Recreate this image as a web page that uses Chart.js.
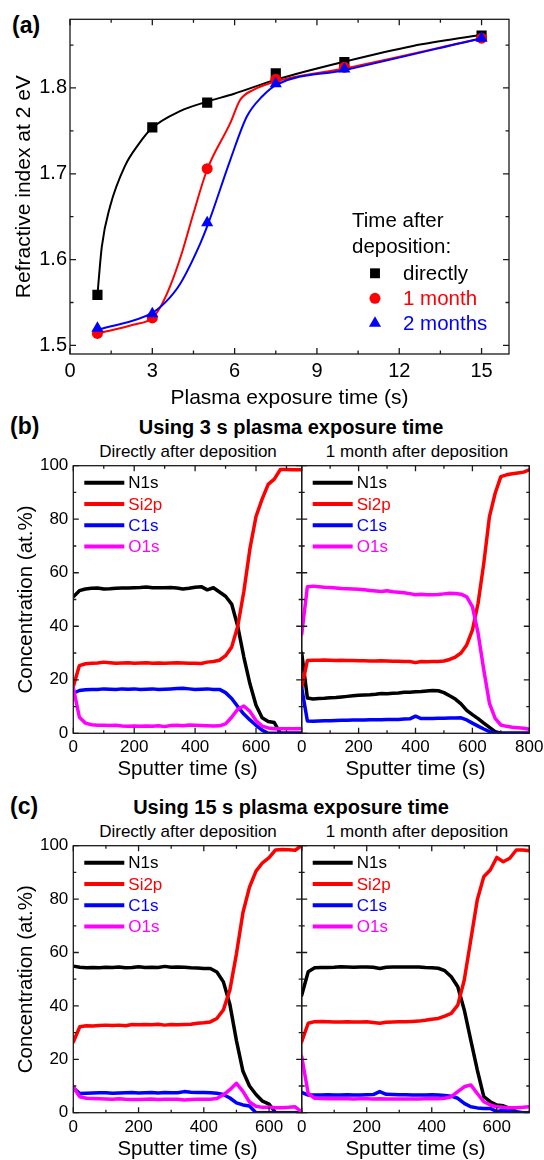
<!DOCTYPE html>
<html><head><meta charset="utf-8">
<script src="https://cdn.jsdelivr.net/npm/chart.js@4/dist/chart.umd.min.js"></script>
<style>
html,body{margin:0;padding:0;background:#fff;}
body{width:544px;height:1160px;position:relative;overflow:hidden;font-family:"Liberation Sans",Arial,sans-serif;}
canvas{position:absolute;}
.lbl{position:absolute;white-space:nowrap;color:#000;line-height:1;}
.ctr{transform:translateX(-50%);}
</style></head><body>
<div class="lbl" style="left:12px;top:14px;font-size:23px;font-weight:bold;">(a)</div>
<div class="lbl" style="left:10px;top:415px;font-size:23px;font-weight:bold;">(b)</div>
<div class="lbl ctr" style="left:291px;top:417px;font-size:20px;font-weight:bold;">Using 3 s plasma exposure time</div>
<div class="lbl ctr" style="left:188px;top:443px;font-size:17px;">Directly after deposition</div>
<div class="lbl ctr" style="left:417px;top:443px;font-size:17px;">1 month after deposition</div>
<div class="lbl" style="left:10px;top:795px;font-size:23px;font-weight:bold;">(c)</div>
<div class="lbl ctr" style="left:291px;top:797px;font-size:20px;font-weight:bold;">Using 15 s plasma exposure time</div>
<div class="lbl ctr" style="left:188px;top:823px;font-size:17px;">Directly after deposition</div>
<div class="lbl ctr" style="left:417px;top:823px;font-size:17px;">1 month after deposition</div>
<canvas id="ca"></canvas>
<canvas id="cb1"></canvas>
<canvas id="cb2"></canvas>
<canvas id="cc1"></canvas>
<canvas id="cc2"></canvas>
<script>
// ---------- data: panel (a) measured points ----------
const A_X = [1, 3, 5, 7.5, 10, 15];
const A_DIRECTLY = [1.559, 1.754, 1.783, 1.817, 1.830, 1.861];
const A_1MONTH   = [1.514, 1.532, 1.706, 1.810, 1.824, 1.858];
const A_2MONTHS  = [1.520, 1.537, 1.643, 1.805, 1.822, 1.858];
// ---------- panel (a) guide curves ----------
const FIT_DIRECTLY_X = [1, 1.16, 1.46, 2.0, 2.49, 2.98, 4.01, 4.99, 5.96, 7.54, 10.04, 12.5, 15];
const FIT_DIRECTLY   = [1.559, 1.615, 1.662, 1.709, 1.734, 1.753, 1.773, 1.784, 1.793, 1.810, 1.831, 1.849, 1.862];
const FIT_1MONTH_X = [1, 2.3, 3, 3.3, 3.65, 4.08, 4.5, 5, 5.84, 6.2, 6.7, 7.54, 10.04, 15];
const FIT_1MONTH   = [1.514, 1.524, 1.532, 1.545, 1.569, 1.608, 1.654, 1.705, 1.759, 1.786, 1.798, 1.808, 1.823, 1.858];
const FIT_2MONTHS_X = [1, 3, 3.5, 4.0, 4.75, 5.05, 5.84, 6.45, 7.0, 7.54, 10.04, 15];
const FIT_2MONTHS   = [1.518, 1.538, 1.551, 1.571, 1.619, 1.643, 1.716, 1.767, 1.790, 1.804, 1.821, 1.858];
const A_X_TICKS = [0, 3, 6, 9, 12, 15];
const A_Y_TICKS = [1.5, 1.6, 1.7, 1.8];
const A_LEGEND = ['directly', '1 month', '2 months'];

// ---------- data: XPS depth profiles ----------
const CONC_TICKS = [0, 20, 40, 60, 80, 100];
const SPUTTER_TICKS = [0, 200, 400, 600];
const SPUTTER_TICKS_800 = [0, 200, 400, 600, 800];
const ELEMENTS = ['N1s', 'Si2p', 'C1s', 'O1s'];

// (b) 3 s, directly after deposition
const B1_X = [0,20,40,60,80,100,120,140,160,180,200,220,240,260,280,300,320,340,360,380,400,420,440,460,480,500,520,540,560,580,600,620,640,660,680,700,720,740,750];
const B1_N1S  = [51.0,53.3,53.9,54.2,54.3,53.9,54.0,54.2,54.3,54.3,54.4,54.5,54.7,54.4,54.4,54.4,54.5,54.3,53.9,54.2,54.6,54.8,53.6,54.4,52.8,51.2,48.3,40.0,28.5,18.5,10.5,5.8,4.4,4.0,0,0,0,0,0];
const B1_SI2P = [17.5,25.3,26.0,26.2,26.3,26.6,26.4,26.2,26.3,26.4,26.2,26.3,26.4,26.2,26.3,26.2,26.3,26.4,26.3,26.2,26.2,26.1,26.6,26.8,27.3,29.0,32.2,40.0,53.0,69.0,81.0,87.5,93.0,95.0,98.6,98.6,98.5,98.5,98.5];
const B1_C1S  = [15.0,16.0,16.3,16.4,16.4,16.6,16.5,16.4,16.6,16.5,16.6,16.4,16.5,16.6,16.4,16.5,16.6,16.7,16.8,16.6,16.4,16.5,16.6,16.4,16.4,15.2,13.0,10.0,7.2,5.0,3.0,1.2,0,0,0,0,0,0,0];
const B1_O1S  = [17.0,6.0,3.8,3.2,3.0,3.0,2.9,3.0,2.7,2.6,2.7,2.6,2.7,2.6,2.8,2.5,2.9,3.0,2.8,3.1,3.0,2.9,2.8,2.7,2.8,3.5,6.0,9.0,10.2,8.2,4.8,2.7,2.0,1.7,1.7,1.7,1.7,1.7,1.8];

// (b) 3 s, 1 month after deposition
const B2_X = [0,20,40,60,80,100,120,140,160,180,200,220,240,260,280,300,320,340,360,380,400,420,440,460,480,500,520,540,560,580,600,620,640,660,680,700,720,740,760,780,800];
const B2_N1S  = [30.0,13.2,12.8,13.0,13.1,13.3,13.4,13.6,13.8,14.0,14.2,14.3,14.4,14.6,14.9,14.8,15.0,15.1,15.3,15.3,15.5,15.6,15.8,16.0,15.9,15.2,14.0,12.8,11.0,8.6,7.0,5.5,3.8,2.2,0.6,0,0,0,0,0,0];
const B2_SI2P = [17.0,27.2,27.3,27.3,27.4,27.3,27.2,27.3,27.2,27.2,27.1,27.1,27.0,27.0,27.1,27.0,26.9,26.9,26.8,26.8,26.4,26.8,26.7,26.8,26.8,27.0,27.6,28.5,30.0,33.0,38.6,48.6,63.5,81.0,89.7,95.9,96.6,97.0,97.3,97.6,98.4];
const B2_C1S  = [17.0,4.6,4.5,4.6,4.7,4.7,4.8,4.9,4.9,5.0,5.0,5.0,5.1,5.1,5.1,5.2,5.2,5.2,5.3,5.4,6.4,5.5,5.5,5.5,5.6,5.6,5.7,5.7,5.8,5.0,3.8,2.7,1.6,0.6,0,0,0,0,0,0,0];
const B2_O1S  = [37.0,54.8,55.0,54.8,54.6,54.5,54.3,54.1,54.0,53.9,53.8,53.6,53.4,53.2,53.0,53.3,52.9,52.7,52.5,52.2,51.8,52.0,51.8,51.8,51.9,52.1,52.3,52.2,52.0,51.0,47.3,37.4,23.7,11.2,5.6,3.1,2.6,2.3,2.1,1.9,1.5];

// (c) 15 s, directly after deposition
const C1_X = [0,20,40,60,80,100,120,140,160,180,200,220,240,260,280,300,320,340,360,380,400,420,440,460,480,500,520,540,560,580,600,620,640,660,680,700];
const C1_N1S  = [54.9,54.5,54.3,54.4,54.3,54.5,54.4,54.6,54.3,54.4,54.7,54.4,54.5,54.4,54.8,54.5,54.6,54.5,54.3,54.2,54.0,54.0,52.7,49.0,40.5,27.0,15.5,10.0,6.8,4.3,3.2,0,0,0,0,0];
const C1_SI2P = [26.5,32.2,32.6,32.5,32.7,32.8,32.7,32.8,32.6,33.0,32.9,33.0,32.9,33.1,32.8,33.0,32.9,33.0,33.1,33.5,33.7,34.0,35.3,38.5,46.0,59.5,75.0,84.5,90.5,93.6,95.5,98.4,98.6,98.5,98.3,100];
const C1_C1S  = [9.3,7.2,7.3,7.4,7.5,7.5,7.3,7.4,7.5,7.6,7.4,7.5,7.6,7.4,7.6,7.5,7.5,7.9,7.7,7.6,7.6,7.5,7.3,6.8,5.5,3.7,2.9,2.5,0,0,0,0,0,0,0,0];
const C1_O1S  = [9.5,6.0,5.4,5.3,5.2,5.1,5.0,5.2,5.0,4.9,4.9,5.0,5.1,4.9,5.0,5.0,5.0,4.8,4.9,5.0,5.0,5.0,5.3,6.7,8.6,11.0,8.0,4.0,2.4,2.0,2.0,1.9,1.9,2.0,2.2,0.3];

// (c) 15 s, 1 month after deposition
const C2_X = [0,20,40,60,80,100,120,140,160,180,200,220,240,260,280,300,320,340,360,380,400,420,440,460,480,500,520,540,560,580,600,620,640,660,680,700];
const C2_N1S  = [44.0,52.8,54.3,54.4,54.4,54.5,54.7,54.6,54.5,54.6,54.6,54.5,54.0,54.5,54.6,54.6,54.6,54.6,54.6,54.4,54.3,54.1,53.2,50.9,47.2,38.5,27.2,16.0,6.0,4.1,2.9,2.6,1.6,0.4,0,0];
const C2_SI2P = [26.6,33.5,34.1,34.2,34.1,34.0,34.0,34.1,34.0,34.0,34.1,33.8,33.5,33.9,34.0,34.1,34.1,34.2,34.3,34.6,35.0,35.3,36.2,37.2,40.3,49.7,64.7,79.7,88.4,90.9,95.6,94.0,95.3,98.4,98.4,98.1];
const C2_C1S  = [7.6,6.6,6.6,6.6,6.7,6.6,6.6,6.7,6.6,6.6,6.7,6.8,7.9,6.9,6.8,6.7,6.7,6.6,6.6,6.6,6.7,6.6,6.4,6.2,5.4,3.5,2.2,1.8,1.6,1.6,0.4,1.0,0.4,0,0,0];
const C2_O1S  = [21.0,7.2,5.4,5.3,5.2,5.2,5.2,5.2,5.1,5.2,5.2,5.1,5.2,5.1,5.1,5.1,5.1,5.1,5.1,5.2,5.2,5.2,5.4,6.0,7.9,9.7,10.4,7.2,4.1,2.9,2.2,2.0,1.9,1.9,2.0,2.2];

// ---------- styling ----------
const FONT = '"Liberation Sans", Arial, Helvetica, sans-serif';
Chart.defaults.font.family = FONT;
Chart.defaults.color = '#000';
const COL = {N1s:'#000000', Si2p:'#ff0000', C1s:'#0000ff', O1s:'#ff00ff'};

function place(id, r) {
  const c = document.getElementById(id);
  c.width = r.w; c.height = r.h;
  c.style.left = r.x + 'px'; c.style.top = r.y + 'px';
  c.style.width = r.w + 'px'; c.style.height = r.h + 'px';
  return c;
}
function minorsOf(major, max) {
  const out = [];
  const step = major[1] - major[0];
  for (let i = 0; i < major.length; i++) {
    const m = major[i] + step / 2;
    if (m <= max + 1e-9) out.push(m);
  }
  return out;
}

const framePlugin = {
  id: 'frame',
  afterDatasetsDraw(chart, args, o) {
    const {ctx, chartArea: a} = chart;
    const xs = chart.scales.x, ys = chart.scales.y;
    ctx.save();
    ctx.strokeStyle = '#1a1a1a';
    ctx.lineWidth = 1.3;
    ctx.beginPath();
    const seg = (x1, y1, x2, y2) => { ctx.moveTo(x1, y1); ctx.lineTo(x2, y2); };
    const doX = (vals, len) => vals.forEach(v => { const p = xs.getPixelForValue(v); seg(p, a.bottom, p, a.bottom - len); seg(p, a.top, p, a.top + len); });
    const doY = (vals, len) => vals.forEach(v => { const p = ys.getPixelForValue(v); seg(a.left, p, a.left + len, p); seg(a.right, p, a.right - len, p); });
    doX(o.xMajor, o.maj); doX(o.xMinor, o.min);
    doY(o.yMajor, o.maj); doY(o.yMinor, o.min);
    ctx.stroke();
    ctx.strokeRect(a.left, a.top, a.right - a.left, a.bottom - a.top);
    ctx.restore();
  }
};

const concLegend = {
  id: 'concLegend',
  afterDatasetsDraw(chart) {
    const {ctx, chartArea: a} = chart;
    ctx.save();
    ctx.font = '17px ' + FONT;
    ctx.textBaseline = 'middle';
    ctx.lineCap = 'butt';
    ELEMENTS.forEach((el, i) => {
      const y = a.top + 17 + i * 21.3;
      ctx.strokeStyle = COL[el]; ctx.lineWidth = 4;
      ctx.beginPath(); ctx.moveTo(a.left + 11, y); ctx.lineTo(a.left + 51, y); ctx.stroke();
      ctx.fillStyle = COL[el];
      ctx.fillText(el, a.left + 55, y + 1);
    });
    ctx.restore();
  }
};

const aLegend = {
  id: 'aLegend',
  afterDatasetsDraw(chart) {
    const {ctx, chartArea: a} = chart;
    ctx.save();
    ctx.font = '20.5px ' + FONT;
    ctx.textBaseline = 'middle';
    ctx.fillStyle = '#000';
    ctx.fillText('Time after', a.left + 282, a.top + 202);
    ctx.fillText('deposition:', a.left + 282, a.top + 228);
    const styles = [
      {c: '#000000', s: 'rect', r: 7},
      {c: '#ff0000', s: 'circle', r: 5.5},
      {c: '#0000ff', s: 'triangle', r: 7}
    ];
    A_LEGEND.forEach((t, i) => {
      const y = a.top + 254 + i * 25;
      ctx.fillStyle = styles[i].c;
      ctx.strokeStyle = styles[i].c;
      Chart.helpers.drawPoint(ctx, {pointStyle: styles[i].s, radius: styles[i].r, rotation: 0, borderWidth: 0}, a.left + 305, y);
      ctx.fillStyle = styles[i].c;
      ctx.fillText(t, a.left + 333, y + 1);
    });
    ctx.restore();
  }
};

function pts(xArr, yArr) { return xArr.map((x, i) => ({x: x, y: yArr[i]})); }

// ---------- panel (a) ----------
(function () {
  const r = {x: 0, y: 0, w: 544, h: 420};
  const p = {l: 70, t: 19.3, r: 509, b: 354};
  const canvas = place('ca', r);
  const yW = p.l - r.x, xH = r.y + r.h - p.b;
  const markers = (label, arr, color, style, rad) => ({
    label, data: pts(A_X, arr), showLine: false, borderColor: color, backgroundColor: color,
    pointStyle: style, pointRadius: rad, pointBorderWidth: 0, pointBackgroundColor: color
  });
  const curve = (label, xs, ys, color) => ({
    label, data: pts(xs, ys), borderColor: color, borderWidth: 2, pointRadius: 0,
    cubicInterpolationMode: 'monotone', fill: false
  });
  new Chart(canvas, {
    type: 'line',
    data: {datasets: [
      markers('2 months', A_2MONTHS, '#0000ff', 'triangle', 7),
      curve('2 months fit', FIT_2MONTHS_X, FIT_2MONTHS, '#0000ff'),
      markers('1 month', A_1MONTH, '#ff0000', 'circle', 5.5),
      curve('1 month fit', FIT_1MONTH_X, FIT_1MONTH, '#ff0000'),
      markers('directly', A_DIRECTLY, '#000000', 'rect', 7.2),
      curve('directly fit', FIT_DIRECTLY_X, FIT_DIRECTLY, '#000000')
    ]},
    options: {
      responsive: false, animation: false, events: [],
      layout: {autoPadding: false, padding: {left: 0, top: p.t - r.y, right: r.x + r.w - p.r, bottom: 0}},
      plugins: {legend: {display: false}, tooltip: {enabled: false},
        frame: {xMajor: A_X_TICKS, xMinor: minorsOf(A_X_TICKS, 16), yMajor: A_Y_TICKS, yMinor: [1.55, 1.65, 1.75, 1.85], maj: 6, min: 3.5}},
      scales: {
        x: {type: 'linear', min: 0, max: 16,
          afterBuildTicks: s => { s.ticks = A_X_TICKS.map(v => ({value: v})); },
          afterFit: s => { s.height = xH; s.paddingLeft = 0; s.paddingRight = 0; },
          grid: {display: false, drawTicks: false}, border: {display: false},
          ticks: {font: {size: 20}, color: '#000', padding: 5, maxRotation: 0, autoSkip: false, callback: v => String(v)},
          title: {display: true, text: 'Plasma exposure time (s)', color: '#000', font: {size: 21, lineHeight: 1}, padding: {top: 0, bottom: 11}}},
        y: {type: 'linear', min: 1.49, max: 1.88,
          afterBuildTicks: s => { s.ticks = A_Y_TICKS.map(v => ({value: v})); },
          afterFit: s => { s.width = yW; s.paddingTop = 0; s.paddingBottom = 0; },
          grid: {display: false, drawTicks: false}, border: {display: false},
          ticks: {font: {size: 20}, color: '#000', padding: 3, autoSkip: false, callback: v => Number(v).toFixed(1)},
          title: {display: true, text: 'Refractive index at 2 eV', color: '#000', font: {size: 21, lineHeight: 1}, padding: {top: 14, bottom: 0}}}
      }
    },
    plugins: [framePlugin, aLegend]
  });
})();

// ---------- concentration panels ----------
function concChart(id, r, p, xMax, xTicks, xArr, N, S, C, O, isLeft, xTitlePad) {
  const canvas = place(id, r);
  const yW = p.l - r.x, xH = r.y + r.h - p.b;
  const ds = (el, arr) => ({label: el, data: pts(xArr, arr), borderColor: COL[el], backgroundColor: COL[el],
    borderWidth: 3.5, pointRadius: 0, tension: 0, borderJoinStyle: 'round', borderCapStyle: 'round'});
  new Chart(canvas, {
    type: 'line',
    data: {datasets: [ds('O1s', O), ds('C1s', C), ds('Si2p', S), ds('N1s', N)]},
    options: {
      responsive: false, animation: false, events: [],
      layout: {autoPadding: false, padding: {left: 0, top: p.t - r.y, right: r.x + r.w - p.r, bottom: 0}},
      plugins: {legend: {display: false}, tooltip: {enabled: false},
        frame: {xMajor: xTicks, xMinor: minorsOf(xTicks, xMax), yMajor: CONC_TICKS, yMinor: minorsOf(CONC_TICKS, 100), maj: 5.5, min: 3}},
      scales: {
        x: {type: 'linear', min: 0, max: xMax,
          afterBuildTicks: s => { s.ticks = xTicks.map(v => ({value: v})); },
          afterFit: s => { s.height = xH; s.paddingLeft = 0; s.paddingRight = 0; },
          grid: {display: false, drawTicks: false}, border: {display: false},
          ticks: {font: {size: 17}, color: '#000', padding: 4, maxRotation: 0, autoSkip: false, callback: v => String(v)},
          title: {display: true, text: 'Sputter time (s)', color: '#000', font: {size: 20.5, lineHeight: 1}, padding: {top: 0, bottom: xTitlePad}}},
        y: {type: 'linear', min: 0, max: 100,
          afterBuildTicks: s => { s.ticks = CONC_TICKS.map(v => ({value: v})); },
          afterFit: s => { s.width = yW; s.paddingTop = 0; s.paddingBottom = 0; },
          grid: {display: false, drawTicks: false}, border: {display: false},
          ticks: {display: isLeft, font: {size: 17}, color: '#000', padding: 5, autoSkip: false, callback: v => String(v)},
          title: {display: isLeft, text: 'Concentration (at.%)', color: '#000', font: {size: 20.5, lineHeight: 1}, padding: {top: 16, bottom: 0}}}
      }
    },
    plugins: [framePlugin, concLegend]
  });
}

concChart('cb1', {x: 0, y: 455, w: 320, h: 330}, {l: 73.3, t: 465.7, r: 301.7, b: 733.3}, 750, SPUTTER_TICKS, B1_X, B1_N1S, B1_SI2P, B1_C1S, B1_O1S, true, 5);
concChart('cb2', {x: 290, y: 455, w: 254, h: 330}, {l: 301.7, t: 465.7, r: 529.3, b: 733.3}, 800, SPUTTER_TICKS_800, B2_X, B2_N1S, B2_SI2P, B2_C1S, B2_O1S, false, 5);
concChart('cc1', {x: 0, y: 835, w: 320, h: 325}, {l: 73.3, t: 845.7, r: 301.7, b: 1112.7}, 700, SPUTTER_TICKS, C1_X, C1_N1S, C1_SI2P, C1_C1S, C1_O1S, true, 0);
concChart('cc2', {x: 290, y: 835, w: 254, h: 325}, {l: 301.7, t: 845.7, r: 529.3, b: 1112.7}, 700, SPUTTER_TICKS, C2_X, C2_N1S, C2_SI2P, C2_C1S, C2_O1S, false, 0);
</script>
</body></html>
